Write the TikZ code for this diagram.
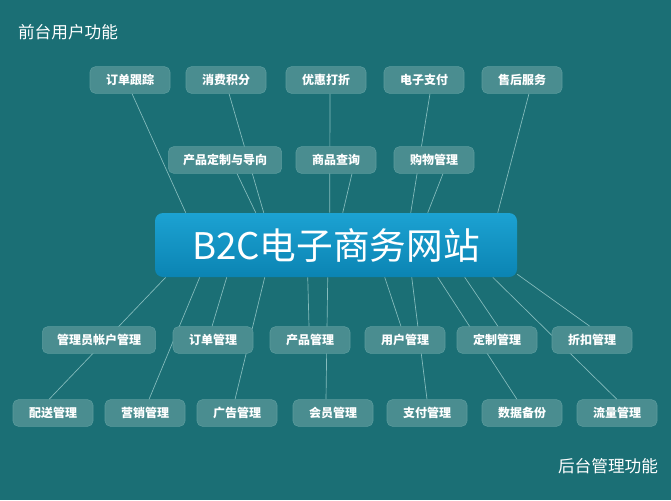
\documentclass[tikz,border=0pt]{standalone}
\usepackage{fontspec}
\setmainfont{Noto Sans CJK SC}
\usetikzlibrary{positioning, calc}
\definecolor{bgteal}{HTML}{1B6F75}
\definecolor{boxteal}{HTML}{4A8D90}
\definecolor{boxedge}{HTML}{5C9C9E}
\definecolor{mainlight}{HTML}{1CA2D2}
\definecolor{maindark}{HTML}{0B84B3}
\definecolor{linecol}{HTML}{86BCBD}
\pgfdeclarelayer{bg}
\pgfdeclarelayer{lines}
\pgfsetlayers{bg,lines,main}

\begin{document}
\begin{tikzpicture}[
    x=0.75pt, y=-0.75pt,
    func/.style={draw=boxedge, line width=0.4pt, rectangle, rounded corners=4pt, fill=boxteal, text=white, minimum width=60pt, minimum height=20pt, inner xsep=11pt, font=\bfseries\fontsize{9}{9}\selectfont},
    mainbox/.style={rectangle, rounded corners=6pt, top color=mainlight, bottom color=maindark, text=white, minimum width=271.5pt, minimum height=48pt, font=\fontsize{27.5}{27.5}\selectfont},
    caption/.style={text=white, font=\fontsize{12.5}{12.5}\selectfont},
    link/.style={draw=linecol, line width=0.5pt}
]

% Background
\begin{pgfonlayer}{bg}
\fill[bgteal] (0,0) rectangle (671,500);
\end{pgfonlayer}
\useasboundingbox (0,0) rectangle (671,500);

% Captions
\node[caption] (front) at (68,32) {前台用户功能};
\node[caption] (back) at (608,466) {后台管理功能};

% Centre box
\node[mainbox] (main) at (336,245) {B2C电子商务网站};

% Front row 1
\node[func] (ddgz) at (130,80) {订单跟踪};
\node[func] (xfjf) at (226,80) {消费积分};
\node[func] (yhdz) at (326,80) {优惠打折};
\node[func] (dzzf) at (424,80) {电子支付};
\node[func] (shfw) at (522,80) {售后服务};

% Front row 2
\node[func] (cpdz) at (225,160) {产品定制与导向};
\node[func] (spcx) at (336,160) {商品查询};
\node[func] (gwgl) at (434,160) {购物管理};

% Back row 1
\node[func] (zhgl) at (99,340) {管理员帐户管理};
\node[func] (ddgl) at (213,340) {订单管理};
\node[func] (cpgl) at (310,340) {产品管理};
\node[func] (yhgl) at (405,340) {用户管理};
\node[func] (dzgl) at (497,340) {定制管理};
\node[func] (zkgl) at (592,340) {折扣管理};

% Back row 2
\node[func] (psgl) at (53,413) {配送管理};
\node[func] (yxgl) at (145,413) {营销管理};
\node[func] (gggl) at (237,413) {广告管理};
\node[func] (hygl) at (333,413) {会员管理};
\node[func] (zfgl) at (427,413) {支付管理};
\node[func] (sjbf) at (522,413) {数据备份};
\node[func] (llgl) at (617,413) {流量管理};

% Connectors (behind the boxes)
\begin{pgfonlayer}{lines}
\draw[link] ($(ddgz.south)+(2,0)$) -- ($(main.north west)+(31,0)$);
\draw[link] ($(xfjf.south)+(3,0)$) -- ($(main.north west)+(109,0)$);
\draw[link] ($(cpdz.south)+(12,0)$) -- ($(main.north west)+(101,0)$);
\draw[link] ($(yhdz.south)+(4,0)$) -- ($(main.north west)+(175,0)$);
\draw[link] ($(spcx.south)+(16,0)$) -- ($(main.north west)+(188,0)$);
\draw[link] ($(dzzf.south)+(6,0)$) -- ($(main.north west)+(256,0)$);
\draw[link] ($(gwgl.south)+(9,0)$) -- ($(main.north west)+(273,0)$);
\draw[link] ($(shfw.south)+(7,0)$) -- ($(main.north west)+(343,0)$);

\draw[link] ($(main.south west)+(11,0)$) -- ($(psgl.north)+(-4,0)$);
\draw[link] ($(main.south west)+(45,0)$) -- ($(yxgl.north)+(4,0)$);
\draw[link] ($(main.south west)+(72,0)$) -- ($(ddgl.north)+(-1,0)$);
\draw[link] ($(main.south west)+(110,0)$) -- ($(gggl.north)+(-2,0)$);
\draw[link] ($(main.south west)+(153,0)$) -- ($(cpgl.north)+(-1,0)$);
\draw[link] ($(main.south west)+(173,0)$) -- ($(hygl.north)+(-7,0)$);
\draw[link] ($(main.south west)+(230,0)$) -- ($(yhgl.north)+(-4,0)$);
\draw[link] ($(main.south west)+(257,0)$) -- (zfgl.north);
\draw[link] ($(main.south west)+(283,0)$) -- ($(sjbf.north)+(-5,0)$);
\draw[link] ($(main.south west)+(310,0)$) -- ($(dzgl.north)+(1,0)$);
\draw[link] ($(main.south west)+(338,0)$) -- (llgl.north);
\draw[link] ($(main.south east)+(0,-3)$) -- ($(zkgl.north)+(-2,0)$);
\end{pgfonlayer}

\end{tikzpicture}
\end{document}
